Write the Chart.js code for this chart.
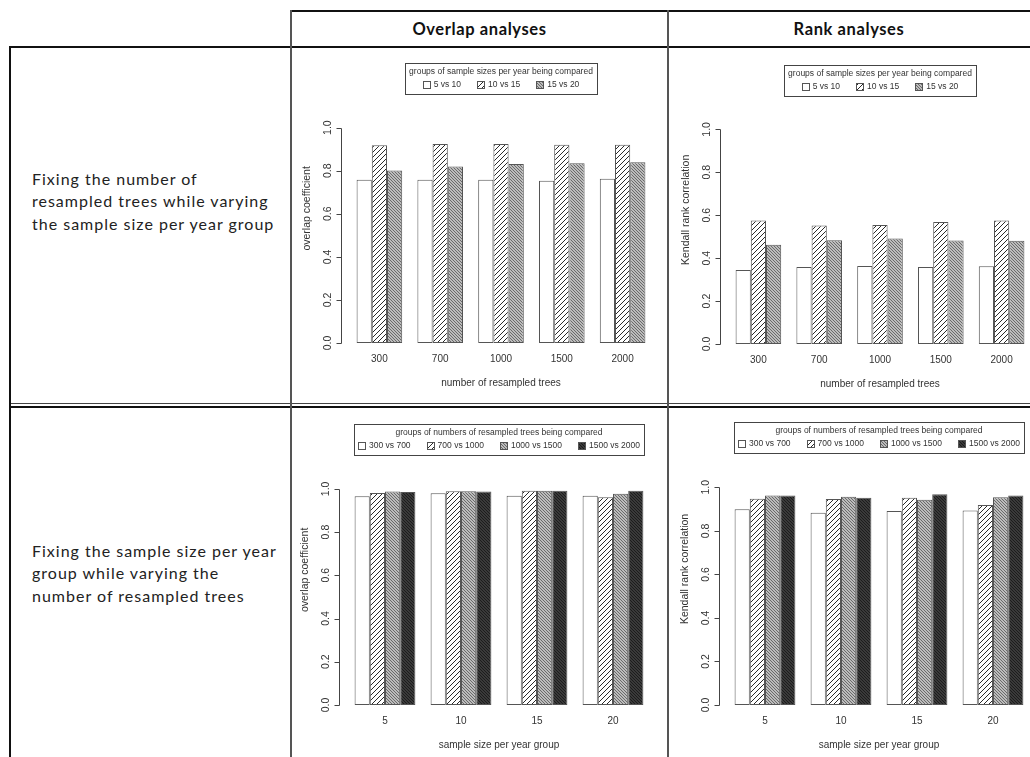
<!DOCTYPE html>
<html>
<head>
<meta charset="utf-8">
<script src="https://cdn.jsdelivr.net/npm/chart.js@4.4.0/dist/chart.umd.min.js"></script>
<style>
  body { margin: 0; width: 1030px; height: 757px; overflow: hidden; background: #fff; position: relative; }
  .ln { position: absolute; background: #111; }
  .vl { position: absolute; background: #555; }
  .head { position: absolute; top: 11px; height: 36px; text-align: center;
          font: bold 16.5px Lato, "Open Sans", sans-serif; line-height: 36px; letter-spacing: 0.6px; color: #111; }
  .rowtxt { position: absolute; left: 32px; font: 16px Lato, "Open Sans", sans-serif; line-height: 22.4px;
            letter-spacing: 1px; color: #222; }
  canvas { position: absolute; }
</style>
</head>
<body>
<!-- tabel lijnen -->
<div class="ln" style="left:291px;top:10px;width:739px;height:2px"></div>
<div class="ln" style="left:9px;top:46px;width:1021px;height:2px"></div>
<div class="ln" style="left:9px;top:403px;width:1021px;height:1px;background:#444"></div>
<div class="ln" style="left:9px;top:406px;width:1021px;height:2px"></div>
<div class="ln" style="left:9px;top:46px;width:2px;height:711px"></div>
<div class="vl" style="left:290px;top:10px;width:2px;height:747px"></div>
<div class="vl" style="left:667px;top:10px;width:2px;height:747px"></div>

<div class="head" style="left:291px;width:377px">Overlap analyses</div>
<div class="head" style="left:668px;width:362px">Rank analyses</div>

<div class="rowtxt" style="top:168px">Fixing the number of<br>resampled trees while varying<br>the sample size per year group</div>
<div class="rowtxt" style="top:540px">Fixing the sample size per year<br>group while varying the<br>number of resampled trees</div>

<canvas id="c1" width="375" height="355" style="left:292px;top:48px"></canvas>
<canvas id="c2" width="370" height="355" style="left:669px;top:48px"></canvas>
<canvas id="c3" width="375" height="348" style="left:292px;top:409px"></canvas>
<canvas id="c4" width="370" height="348" style="left:669px;top:409px"></canvas>

<script>
// categorieen en labels
const TREES = ["300", "700", "1000", "1500", "2000"];
const SAMPLE_SIZES = ["5", "10", "15", "20"];
const SIZE_PAIRS = ["5 vs 10", "10 vs 15", "15 vs 20"];
const TREE_PAIRS = ["300 vs 700", "700 vs 1000", "1000 vs 1500", "1500 vs 2000"];
const Y_TICKS = [0, 0.2, 0.4, 0.6, 0.8, 1.0];
const Y_TICK_LABELS = ["0.0", "0.2", "0.4", "0.6", "0.8", "1.0"];

// overlap, vast aantal bomen
const OVL_TREES_5v10 = [0.758, 0.758, 0.758, 0.753, 0.763];
const OVL_TREES_10v15 = [0.918, 0.924, 0.924, 0.921, 0.921];
const OVL_TREES_15v20 = [0.801, 0.820, 0.831, 0.835, 0.839];
// kendall, vast aantal bomen
const KEN_TREES_5v10 = [0.345, 0.359, 0.364, 0.359, 0.362];
const KEN_TREES_10v15 = [0.575, 0.552, 0.554, 0.569, 0.575];
const KEN_TREES_15v20 = [0.462, 0.484, 0.491, 0.482, 0.481];
// overlap, vaste sample size
const OVL_SIZE_300v700 = [0.966, 0.980, 0.968, 0.968];
const OVL_SIZE_700v1000 = [0.981, 0.989, 0.991, 0.961];
const OVL_SIZE_1000v1500 = [0.988, 0.989, 0.991, 0.977];
const OVL_SIZE_1500v2000 = [0.985, 0.988, 0.991, 0.991];
// kendall, vaste sample size
const KEN_SIZE_300v700 = [0.899, 0.883, 0.891, 0.893];
const KEN_SIZE_700v1000 = [0.948, 0.946, 0.952, 0.919];
const KEN_SIZE_1000v1500 = [0.962, 0.957, 0.943, 0.954];
const KEN_SIZE_1500v2000 = [0.962, 0.952, 0.968, 0.962];

const R_FONT = '"Liberation Sans", Arial, sans-serif';
const TXT = "#333";
const EDGE = "#555";

// arcering zoals R density/angle
function hatch(size, dir, bg, fg, lw) {
  const c = document.createElement("canvas");
  c.width = size; c.height = size;
  const g = c.getContext("2d");
  g.fillStyle = bg; g.fillRect(0, 0, size, size);
  g.strokeStyle = fg; g.lineWidth = lw;
  g.beginPath();
  if (dir > 0) {
    g.moveTo(0, size); g.lineTo(size, 0);
    g.moveTo(-1, 1); g.lineTo(1, -1);
    g.moveTo(size - 1, size + 1); g.lineTo(size + 1, size - 1);
  } else {
    g.moveTo(0, 0); g.lineTo(size, size);
    g.moveTo(size - 1, -1); g.lineTo(size + 1, 1);
    g.moveTo(-1, size - 1); g.lineTo(1, size + 1);
  }
  g.stroke();
  return g.createPattern(c, "repeat");
}

const FILLS = [
  "#ffffff",
  hatch(5, 1, "#ffffff", "#2a2a2a", 1),
  hatch(3, -1, "#bcbcbc", "#6a6a6a", 1),
  hatch(3, -1, "#3a3a3a", "#1c1c1c", 1),
];

// R-achtige y-as: lijn alleen van 0 tot 1, gedraaide labels
const rAxis = {
  id: "rAxis",
  afterDraw(chart, args, opts) {
    const { ctx, scales: { y } } = chart;
    const bar0 = chart.getDatasetMeta(0).data[0];
    const ax = Math.round(bar0.x - bar0.width * 1.5) + 0.5;
    ctx.save();
    ctx.strokeStyle = "#444";
    ctx.lineWidth = 1;
    ctx.beginPath();
    ctx.moveTo(ax, Math.round(y.getPixelForValue(0)) + 0.5);
    ctx.lineTo(ax, Math.round(y.getPixelForValue(1)) + 0.5);
    Y_TICKS.forEach(v => {
      const py = Math.round(y.getPixelForValue(v)) + 0.5;
      ctx.moveTo(ax, py); ctx.lineTo(ax - 5, py);
    });
    ctx.stroke();
    ctx.fillStyle = TXT;
    ctx.font = "10.5px " + R_FONT;
    ctx.textAlign = "center";
    ctx.textBaseline = "middle";
    Y_TICKS.forEach((v, i) => {
      ctx.save();
      ctx.translate(ax - 13, y.getPixelForValue(v));
      ctx.rotate(-Math.PI / 2);
      ctx.fillText(Y_TICK_LABELS[i], 0, 0);
      ctx.restore();
    });
    ctx.save();
    ctx.translate(ax - 34, y.getPixelForValue(0.625));
    ctx.rotate(-Math.PI / 2);
    ctx.fillText(opts.title, 0, 0);
    ctx.restore();
    ctx.restore();
  }
};

// legenda in een kader bovenin het plotgebied
const rLegend = {
  id: "rLegend",
  afterDraw(chart, args, opts) {
    const { ctx, chartArea } = chart;
    const ds = chart.data.datasets;
    ctx.save();
    ctx.font = "8.5px " + R_FONT;
    const titleW = ctx.measureText(opts.title).width;
    const gap = 16, sym = 11;
    const widths = ds.map(d => sym + ctx.measureText(d.label).width);
    const rowW = widths.reduce((t, w) => t + w, 0) + gap * (ds.length - 1);
    const boxW = Math.max(titleW, rowW) + 8;
    const boxH = 31;
    const cx = (chartArea.left + chartArea.right) / 2;
    const bx = Math.round(cx - boxW / 2) + 0.5;
    const by = Math.round(chartArea.top) + 0.5;
    ctx.strokeStyle = "#444";
    ctx.lineWidth = 1;
    ctx.strokeRect(bx, by, Math.round(boxW), boxH);
    ctx.fillStyle = TXT;
    ctx.textAlign = "center";
    ctx.textBaseline = "middle";
    ctx.fillText(opts.title, cx, by + 8);
    ctx.textAlign = "left";
    let x = cx - rowW / 2;
    const iy = by + 21;
    ds.forEach((d, i) => {
      ctx.fillStyle = d.backgroundColor;
      ctx.fillRect(Math.round(x) + 0.5, Math.round(iy - 3.5) + 0.5, 7, 7);
      ctx.strokeStyle = EDGE;
      ctx.strokeRect(Math.round(x) + 0.5, Math.round(iy - 3.5) + 0.5, 7, 7);
      ctx.fillStyle = TXT;
      ctx.fillText(d.label, x + sym, iy);
      x += widths[i] + gap;
    });
    ctx.restore();
  }
};

function makeChart(id, labels, seriesLabels, series, legendTitle, yTitle, xTitle, padding) {
  const n = series.length;
  return new Chart(document.getElementById(id), {
    type: "bar",
    data: {
      labels,
      datasets: series.map((s, i) => ({
        label: seriesLabels[i],
        data: s,
        backgroundColor: FILLS[i],
        borderColor: EDGE,
        borderWidth: 1,
        borderSkipped: false,
        clip: false,
        categoryPercentage: n / (n + 1),
        barPercentage: 1,
      })),
    },
    plugins: [rAxis, rLegend],
    options: {
      responsive: false,
      animation: false,
      devicePixelRatio: 1,
      layout: { padding },
      plugins: {
        legend: { display: false },
        tooltip: { enabled: false },
        rAxis: { title: yTitle },
        rLegend: { title: legendTitle },
      },
      scales: {
        x: {
          grid: { display: false, drawTicks: false },
          border: { display: false },
          ticks: { color: TXT, font: { family: R_FONT, size: 10 }, padding: 10, autoSkip: false, maxRotation: 0 },
          title: { display: true, text: xTitle, color: TXT, font: { family: R_FONT, size: 10 }, padding: { top: 2, bottom: 0 } },
        },
        y: { display: false, min: 0, max: 1.3 },
      },
    },
  });
}

makeChart("c1", TREES, SIZE_PAIRS, [OVL_TREES_5v10, OVL_TREES_10v15, OVL_TREES_15v20],
  "groups of sample sizes per year being compared", "overlap coefficient", "number of resampled trees",
  { left: 57, right: 14, top: 15, bottom: 14 });
makeChart("c2", TREES, SIZE_PAIRS, [KEN_TREES_5v10, KEN_TREES_10v15, KEN_TREES_15v20],
  "groups of sample sizes per year being compared", "Kendall rank correlation", "number of resampled trees",
  { left: 59, right: 7, top: 17, bottom: 13 });
makeChart("c3", SAMPLE_SIZES, TREE_PAIRS, [OVL_SIZE_300v700, OVL_SIZE_700v1000, OVL_SIZE_1000v1500, OVL_SIZE_1500v2000],
  "groups of numbers of resampled trees being compared", "overlap coefficient", "sample size per year group",
  { left: 55, right: 16, top: 15, bottom: 6 });
makeChart("c4", SAMPLE_SIZES, TREE_PAIRS, [KEN_SIZE_300v700, KEN_SIZE_700v1000, KEN_SIZE_1000v1500, KEN_SIZE_1500v2000],
  "groups of numbers of resampled trees being compared", "Kendall rank correlation", "sample size per year group",
  { left: 58, right: 8, top: 13, bottom: 6 });
</script>
</body>
</html>
